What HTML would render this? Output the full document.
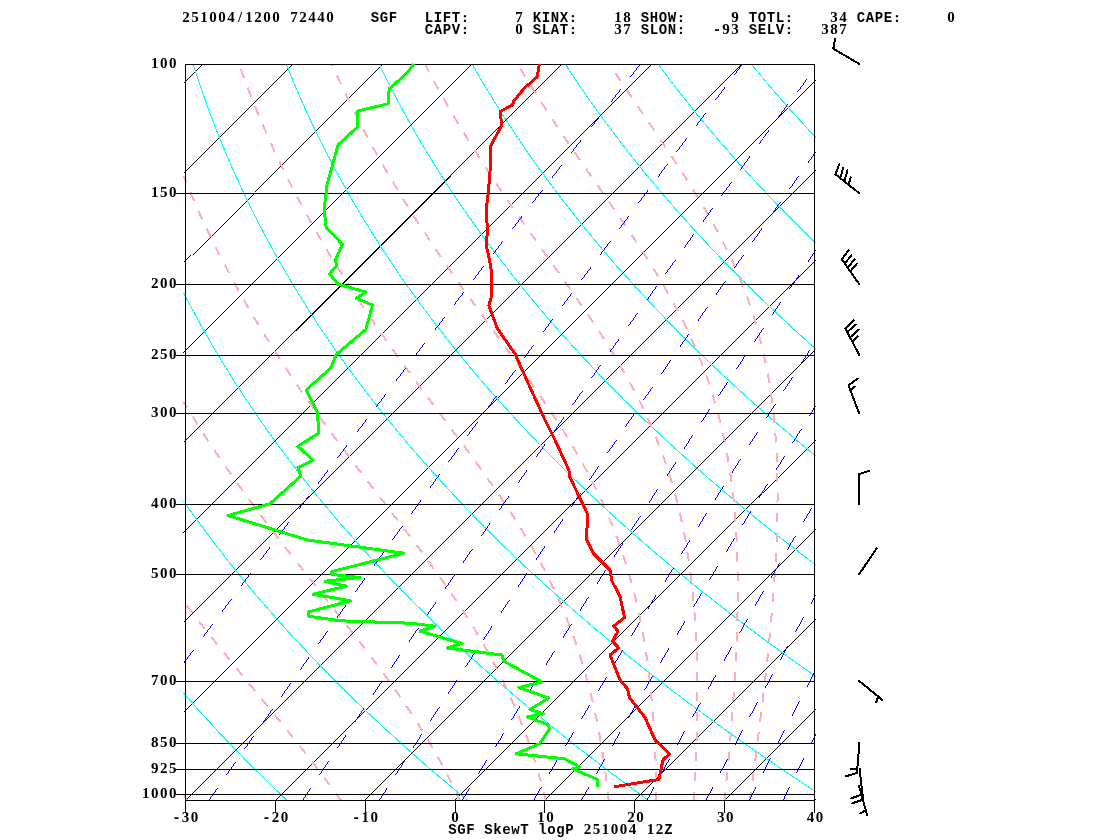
<!DOCTYPE html>
<html><head><meta charset="utf-8"><title>SGF SkewT logP 251004 12Z</title>
<style>html,body{margin:0;padding:0;background:#fff;width:1120px;height:840px;overflow:hidden}
svg text{font-weight:bold;text-anchor:middle}
.m{font-family:"Liberation Mono",monospace;font-size:14px}
.d{font-family:"Liberation Serif",serif;font-size:15px}</style></head>
<body>
<svg width="1120" height="840" viewBox="0 0 1120 840" style="position:absolute;left:0;top:0" shape-rendering="crispEdges">
<rect x="0" y="0" width="1120" height="840" fill="#fff"/>
<g fill="none">
<g stroke="#000" stroke-width="0.99">
<line x1="183.6" y1="83.2" x2="202.8" y2="64.0"/>
<line x1="183.6" y1="173.1" x2="292.7" y2="64.0"/>
<line x1="183.6" y1="262.9" x2="382.5" y2="64.0"/>
<line x1="183.6" y1="352.8" x2="472.4" y2="64.0"/>
<line x1="183.6" y1="442.7" x2="562.3" y2="64.0"/>
<line x1="183.6" y1="532.5" x2="652.1" y2="64.0"/>
<line x1="183.6" y1="622.4" x2="742.0" y2="64.0"/>
<line x1="183.6" y1="712.2" x2="815.8" y2="80.0"/>
<line x1="184.7" y1="801.0" x2="815.8" y2="169.9"/>
<line x1="274.6" y1="801.0" x2="815.8" y2="259.8"/>
<line x1="364.4" y1="801.0" x2="815.8" y2="349.6"/>
<line x1="454.3" y1="801.0" x2="815.8" y2="439.5"/>
<line x1="544.1" y1="801.0" x2="815.8" y2="529.3"/>
<line x1="634.0" y1="801.0" x2="815.8" y2="619.2"/>
<line x1="723.9" y1="801.0" x2="815.8" y2="709.1"/>
<line x1="813.7" y1="801.0" x2="815.8" y2="798.9"/>
</g>
<line x1="295.8" y1="330.5" x2="450.8" y2="175.5" stroke="#000" stroke-width="1.45"/>
<g stroke="#0ff" stroke-width="1.1">

<polyline points="287.7,801.0 274.2,788.1 260.5,774.7 247.0,761.3 233.9,747.9 221.1,734.5 208.6,721.1 196.5,707.7 183.6,693.1"/>
<polyline points="468.5,801.0 446.1,782.4 425.9,765.2 406.2,747.9 385.1,728.8 366.6,711.5 346.8,692.4 327.6,673.2 309.1,654.0 293.0,636.8 275.7,617.6 259.0,598.5 243.0,579.3 227.5,560.2 212.7,541.0 198.4,521.9 191.4,512.3 183.6,501.2"/>
<polyline points="649.3,801.0 629.0,786.2 608.4,770.9 590.9,757.5 571.2,742.2 552.1,726.8 533.4,711.5 515.2,696.2 497.4,680.9 480.1,665.5 463.3,650.2 446.9,634.9 430.9,619.6 415.4,604.2 400.2,588.9 385.5,573.6 369.5,556.3 355.6,541.0 342.2,525.7 329.2,510.4 315.0,493.1 302.7,477.8 289.5,460.5 278.0,445.2 265.6,428.0 255.0,412.6 243.4,395.4 232.3,378.2 221.6,360.9 211.4,343.7 201.6,326.4 192.2,309.2 183.6,292.8"/>
<polyline points="815.8,791.8 798.7,780.5 784.4,770.9 756.4,751.7 742.7,742.2 726.5,730.7 713.2,721.1 697.6,709.6 684.7,700.0 669.6,688.5 657.2,678.9 642.5,667.5 630.5,657.9 616.4,646.4 602.5,634.9 588.9,623.4 577.7,613.8 564.6,602.3 553.8,592.7 541.1,581.2 530.7,571.7 518.5,560.2 506.5,548.7 494.7,537.2 485.1,527.6 473.8,516.1 462.8,504.6 451.9,493.1 441.3,481.6 430.9,470.1 420.8,458.6 410.8,447.1 401.1,435.6 391.6,424.1 382.3,412.6 373.3,401.2 364.4,389.7 355.8,378.2 347.3,366.7 339.1,355.2 331.1,343.7 323.3,332.2 315.6,320.7 308.2,309.2 301.0,297.7 293.9,286.2 287.1,274.7 279.3,261.3 272.9,249.8 266.6,238.3 260.5,226.8 253.7,213.4 248.0,201.9 241.6,188.5 236.3,177.0 230.3,163.6 225.4,152.1 219.9,138.7 215.3,127.2 210.2,113.8 206.0,102.3 201.3,88.9 197.4,77.4 193.1,64.0"/>
<polyline points="815.8,676.6 789.4,657.9 765.8,640.6 742.9,623.4 720.6,606.1 698.8,588.9 675.4,569.7 654.9,552.5 632.9,533.3 613.6,516.1 592.9,496.9 572.9,477.8 553.5,458.6 536.6,441.4 518.5,422.2 501.0,403.1 484.2,383.9 467.9,364.8 452.3,345.6 437.3,326.4 422.8,307.3 408.9,288.1 395.6,269.0 382.9,249.8 376.7,240.2 369.5,228.7 357.8,209.6 352.2,200.0 345.7,188.5 335.1,169.3 330.1,159.8 324.1,148.3 319.4,138.7 313.8,127.2 309.2,117.6 304.0,106.1 299.7,96.5 294.8,85.0 290.8,75.5 286.1,64.0"/>
<polyline points="815.8,565.0 796.9,550.6 777.3,535.3 760.5,521.9 741.8,506.5 725.8,493.1 708.0,477.8 690.6,462.5 673.6,447.1 657.1,431.8 641.0,416.5 625.4,401.2 610.2,385.8 595.4,370.5 581.0,355.2 567.0,339.8 553.4,324.5 540.2,309.2 527.5,293.9 515.1,278.5 501.6,261.3 490.0,246.0 477.4,228.7 466.5,213.4 454.8,196.2 444.7,180.8 433.8,163.6 424.5,148.3 414.4,131.0 405.8,115.7 396.5,98.5 387.6,81.2 379.1,64.0"/>
<polyline points="815.8,456.0 800.4,443.3 786.7,431.8 773.2,420.3 760.1,408.8 747.2,397.3 734.5,385.8 722.1,374.3 709.9,362.8 698.0,351.3 686.3,339.8 674.8,328.4 661.8,314.9 650.8,303.4 638.4,290.0 627.9,278.5 616.0,265.1 606.1,253.6 594.7,240.2 585.3,228.7 574.5,215.3 565.5,203.8 555.2,190.4 546.7,178.9 536.9,165.5 528.8,154.0 519.6,140.6 512.0,129.1 503.2,115.7 496.0,104.2 487.8,90.8 479.8,77.4 472.1,64.0"/>
<polyline points="815.8,349.0 797.1,332.2 778.4,314.9 760.3,297.7 742.7,280.5 725.7,263.2 709.2,246.0 693.2,228.7 676.0,209.6 661.1,192.3 645.1,173.2 631.2,155.9 616.4,136.8 603.5,119.5 589.7,100.4 577.8,83.1 565.2,64.0"/>
<polyline points="815.8,243.1 805.0,232.6 793.4,221.1 782.1,209.6 771.0,198.1 761.9,188.5 751.2,177.0 740.8,165.5 730.6,154.0 722.2,144.4 712.4,132.9 702.9,121.4 693.5,110.0 684.3,98.5 675.4,87.0 666.7,75.5 658.2,64.0"/>
<polyline points="815.8,137.6 799.1,119.5 782.0,100.4 767.1,83.1 751.2,64.0"/>

</g>
<g stroke="#ffaeb9" stroke-width="2" stroke-dasharray="9.4 10.6">
<polyline points="188.0,801.0 183.6,795.9"/>
<polyline points="341.5,801.0 332.2,788.1 322.1,774.7 311.9,761.3 301.3,747.9 279.8,721.1 237.4,669.4 218.8,646.4 200.5,623.4 183.6,601.5"/>
<polyline points="460.2,801.0 454.1,788.1 447.4,774.7 440.2,761.3 432.6,747.9 424.6,734.5 416.3,721.1 407.5,707.7 398.3,694.3 390.2,682.8 381.9,671.3 373.4,659.8 363.2,646.4 343.8,621.5 302.9,569.7 284.8,546.8 267.2,523.8 250.0,500.8 240.3,487.4 232.1,475.9 222.8,462.5 214.9,451.0 206.0,437.6 198.6,426.1 191.3,414.6 183.6,402.0"/>
<polyline points="546.0,801.0 543.2,790.1 540.6,780.5 537.3,769.0 534.3,759.4 530.5,747.9 527.2,738.3 523.6,728.8 519.9,719.2 515.9,709.6 511.8,700.0 507.4,690.4 502.9,680.9 498.1,671.3 493.1,661.7 487.9,652.1 482.4,642.5 473.3,627.2 468.5,619.6 462.4,610.0 450.9,592.7 438.8,575.5 426.3,558.3 413.5,541.0 398.9,521.9 354.8,464.4 341.8,447.1 329.0,429.9 315.1,410.7 301.7,391.6 288.7,372.4 276.2,353.3 268.9,341.8 261.8,330.3 254.8,318.8 249.2,309.2 243.7,299.6 237.2,288.1 231.0,276.6 224.9,265.1 219.9,255.6 214.2,244.1 208.6,232.6 203.2,221.1 197.9,209.6 192.9,198.1 188.0,186.6 183.6,176.0"/>
<polyline points="608.8,801.0 606.9,784.3 605.0,769.0 602.7,753.7 600.1,738.3 597.3,723.0 594.4,709.6 590.9,694.3 587.4,680.9 583.6,667.5 579.5,654.0 575.0,640.6 570.1,627.2 564.7,613.8 559.9,602.3 553.7,588.9 548.2,577.4 543.3,567.8 538.1,558.3 532.8,548.7 527.2,539.1 521.5,529.5 514.3,518.0 508.1,508.4 500.4,496.9 487.1,477.8 473.4,458.6 457.8,437.6 424.9,393.5 410.7,374.3 396.7,355.2 383.1,336.0 368.5,314.9 354.4,293.9 340.9,272.8 329.1,253.6 322.3,242.1 315.7,230.6 309.2,219.2 302.9,207.7 296.8,196.2 290.8,184.7 285.1,173.2 278.6,159.8 273.2,148.3 268.0,136.8 263.0,125.3 257.3,111.9 252.6,100.4 248.1,88.9 243.8,77.4 238.9,64.0"/>
<polyline points="656.5,801.0 656.1,778.6 655.4,755.6 654.3,734.5 652.9,713.4 651.2,694.3 649.1,675.1 647.9,665.5 646.6,656.0 643.8,638.7 640.6,621.5 638.6,611.9 636.9,604.2 634.6,594.7 632.6,587.0 628.3,571.7 626.0,564.0 623.5,556.3 620.9,548.7 618.2,541.0 615.4,533.3 612.4,525.7 609.2,518.0 605.9,510.4 600.7,498.9 596.1,489.3 590.3,477.8 584.2,466.3 577.7,454.8 570.9,443.3 563.9,431.8 555.3,418.4 548.9,408.8 542.5,399.2 534.5,387.7 526.4,376.2 511.3,355.2 470.9,299.6 458.5,282.4 446.5,265.1 434.7,247.9 423.2,230.6 412.0,213.4 402.5,198.1 392.1,180.8 382.0,163.6 372.4,146.4 364.2,131.0 356.3,115.7 347.8,98.5 339.6,81.2 331.9,64.0"/>
<polyline points="694.0,801.0 695.6,769.0 696.6,740.3 697.2,713.4 697.3,688.5 697.2,675.1 697.0,663.6 696.6,652.1 696.2,640.6 695.0,619.6 694.1,608.1 693.3,598.5 692.2,587.0 691.1,577.4 689.8,567.8 688.4,558.3 686.9,548.7 685.3,539.1 683.4,529.5 681.8,521.9 679.7,512.3 677.8,504.6 675.4,495.0 673.2,487.4 670.4,477.8 668.0,470.1 664.7,460.5 662.0,452.9 656.8,439.5 652.1,428.0 646.9,416.5 641.5,405.0 635.7,393.5 628.5,380.1 622.0,368.6 614.0,355.2 608.1,345.6 600.8,334.1 593.2,322.6 584.2,309.2 568.2,286.2 531.5,234.5 515.4,211.5 499.6,188.5 484.4,165.5 475.8,152.1 467.4,138.7 459.2,125.3 452.4,113.8 444.7,100.4 438.2,88.9 431.9,77.4 424.9,64.0"/>
<polyline points="724.5,801.0 728.2,763.2 731.2,728.8 733.6,696.2 735.4,667.5 736.7,640.6 737.2,627.2 737.5,613.8 737.7,600.4 737.8,588.9 737.7,577.4 737.6,565.9 737.2,554.4 736.8,542.9 736.2,531.4 735.5,521.9 734.6,510.4 733.7,500.8 732.6,491.2 731.4,481.6 730.1,472.0 728.6,462.5 726.9,452.9 725.1,443.3 723.0,433.7 720.8,424.1 718.4,414.6 716.3,406.9 714.1,399.2 711.7,391.6 709.2,383.9 706.6,376.2 703.7,368.6 700.8,360.9 695.2,347.5 689.2,334.1 685.6,326.4 681.8,318.8 677.8,311.1 673.7,303.4 665.1,288.1 658.3,276.6 650.0,263.2 641.4,249.8 632.6,236.4 615.6,211.5 573.2,150.2 561.5,132.9 551.3,117.6 542.6,104.2 534.0,90.8 525.7,77.4 517.6,64.0"/>
<polyline points="749.9,801.0 756.1,753.7 760.9,715.3 765.0,680.9 768.5,648.3 771.4,617.6 773.6,590.8 775.4,564.0 776.7,539.1 777.1,525.7 777.4,514.2 777.5,502.7 777.6,491.2 777.4,479.7 777.2,468.2 776.7,456.7 776.3,447.1 775.5,435.6 774.7,426.1 773.8,416.5 772.7,406.9 771.5,397.3 770.1,387.7 768.5,378.2 767.1,370.5 765.2,360.9 763.6,353.3 761.3,343.7 759.3,336.0 756.7,326.4 754.4,318.8 752.0,311.1 749.4,303.4 746.6,295.8 743.7,288.1 740.7,280.5 737.5,272.8 734.1,265.1 730.6,257.5 726.9,249.8 722.1,240.2 715.0,226.8 706.3,211.5 697.1,196.2 686.3,178.9 677.6,165.5 667.5,150.2 627.2,90.8 609.4,64.0"/>
</g>
<g stroke="#00f" stroke-width="0.99" stroke-dasharray="16.5 15.56">
<polyline points="183.6,663.2 237.5,590.8 292.1,518.0 348.5,443.3 405.3,368.6 462.5,293.9 521.4,217.2 580.8,140.6 640.5,64.0"/>
<polyline stroke-dashoffset="0.8" points="208.4,801.0 238.7,757.5 269.5,713.4 300.5,669.4 333.0,623.4 364.4,579.3 397.2,533.3 430.3,487.4 463.5,441.4 496.9,395.4 530.5,349.4 564.3,303.4 599.6,255.6 635.1,207.7 670.7,159.8 706.6,111.9 742.5,64.0"/>
<polyline stroke-dashoffset="0.8" points="302.1,801.0 331.0,757.5 360.5,713.4 390.2,669.4 421.5,623.4 451.6,579.3 483.2,533.3 513.7,489.3 545.8,443.3 578.0,397.3 610.4,351.3 643.1,305.4 677.2,257.5 711.6,209.6 746.2,161.7 780.9,113.8 815.8,66.0"/>
<polyline stroke-dashoffset="0.8" points="379.0,801.0 404.4,761.3 429.0,723.0 453.9,684.7 480.2,644.5 506.6,604.2 533.2,564.0 560.1,523.8 587.0,483.5 614.2,443.3 642.8,401.2 670.3,360.9 699.3,318.8 727.1,278.5 756.4,236.4 785.9,194.2 815.8,151.8"/>
<polyline stroke-dashoffset="0.8" points="461.8,801.0 482.5,767.1 502.5,734.5 522.7,701.9 544.2,667.5 586.4,600.4 608.3,565.9 630.4,531.4 675.0,462.5 697.5,428.0 721.4,391.6 768.4,320.7 815.8,250.0"/>
<polyline stroke-dashoffset="0.8" points="533.2,801.0 566.6,744.1 599.6,688.5 633.1,633.0 668.1,575.5 703.7,518.0 740.8,458.6 778.4,399.2 815.8,340.9"/>
<polyline stroke-dashoffset="0.8" points="581.0,801.0 608.9,751.7 636.5,703.9 664.4,656.0 693.9,606.1 723.6,556.3 753.7,506.5 784.2,456.7 815.8,405.6"/>
<polyline stroke-dashoffset="0.8" points="646.6,801.0 667.1,763.2 687.1,726.8 707.3,690.4 728.8,652.1 749.4,615.7 771.3,577.4 793.5,539.1 815.8,501.0"/>
<polyline stroke-dashoffset="0.8" points="705.6,801.0 732.3,749.8 759.7,698.1 787.6,646.4 815.8,594.9"/>
<polyline stroke-dashoffset="0.8" points="748.8,801.0 764.8,769.0 781.4,736.4 798.1,703.9 815.8,669.9"/>
<polyline stroke-dashoffset="0.8" points="782.8,801.0 799.4,767.1 815.8,734.0"/>
</g>
</g>
<g stroke="#000" stroke-width="1" fill="none">
<line x1="185.5" y1="64.5" x2="814.5" y2="64.5"/>
<line x1="176.0" y1="193.5" x2="814.5" y2="193.5"/>
<line x1="176.0" y1="284.5" x2="814.5" y2="284.5"/>
<line x1="176.0" y1="355.5" x2="814.5" y2="355.5"/>
<line x1="176.0" y1="413.5" x2="814.5" y2="413.5"/>
<line x1="176.0" y1="504.5" x2="814.5" y2="504.5"/>
<line x1="176.0" y1="574.5" x2="814.5" y2="574.5"/>
<line x1="176.0" y1="681.5" x2="814.5" y2="681.5"/>
<line x1="176.0" y1="743.5" x2="814.5" y2="743.5"/>
<line x1="176.0" y1="769.5" x2="814.5" y2="769.5"/>
<line x1="176.0" y1="794.5" x2="814.5" y2="794.5"/>
<rect x="185.5" y="64.5" width="629" height="736"/>
<line x1="185.5" y1="800.5" x2="185.5" y2="812.5"/>
<line x1="275.5" y1="800.5" x2="275.5" y2="812.5"/>
<line x1="365.5" y1="800.5" x2="365.5" y2="812.5"/>
<line x1="455.5" y1="800.5" x2="455.5" y2="812.5"/>
<line x1="544.5" y1="800.5" x2="544.5" y2="812.5"/>
<line x1="634.5" y1="800.5" x2="634.5" y2="812.5"/>
<line x1="724.5" y1="800.5" x2="724.5" y2="812.5"/>
<line x1="814.5" y1="800.5" x2="814.5" y2="812.5"/>
</g>
<polyline points="413.8,63.8 407.5,72.5 393.8,85.0 389.2,88.8 388.0,103.8 357.0,111.2 357.5,127.0 338.0,145.0 332.5,165.0 327.0,185.0 325.0,202.5 324.5,212.5 326.2,227.5 342.5,244.5 335.8,258.8 336.2,266.2 329.5,273.8 338.0,284.2 365.8,292.0 356.2,298.2 372.5,305.0 365.8,329.5 336.2,354.5 330.8,368.0 306.2,390.0 317.5,412.5 318.8,433.0 298.0,446.2 313.0,460.5 298.0,467.5 300.8,476.2 270.0,503.8 228.0,515.5 275.0,530.0 307.5,540.0 403.8,553.2 331.2,571.8 332.0,574.5 360.0,577.5 325.0,581.2 346.2,586.2 313.0,594.2 350.8,600.8 308.2,612.0 308.8,616.2 340.0,620.8 410.0,623.2 435.0,626.2 420.0,631.2 462.0,643.5 447.0,648.0 502.0,655.0 503.8,661.2 542.0,682.0 518.8,687.5 548.8,698.0 530.0,709.5 543.8,713.8 527.5,717.0 548.8,725.0 549.2,729.5 539.5,743.8 516.2,753.8 564.5,758.8 580.0,767.0 572.5,768.8 597.0,779.2 597.5,787.0" fill="none" stroke="#0f0" stroke-width="3" stroke-linejoin="round"/>
<polyline points="539.5,63.8 537.0,77.0 523.8,88.8 513.8,101.2 512.5,105.0 500.8,111.2 501.2,126.2 490.5,146.2 490.0,172.5 488.0,195.0 486.2,210.0 487.5,230.0 486.2,245.0 489.5,260.0 492.0,275.0 491.2,297.5 488.8,305.5 497.5,328.8 515.0,353.8 531.2,390.0 545.0,420.0 555.0,440.0 568.8,470.0 570.0,477.5 588.0,515.0 586.2,538.8 593.8,553.8 610.0,570.0 612.0,581.2 620.0,596.2 624.5,617.5 613.8,626.2 618.0,631.2 612.5,641.2 618.8,648.0 610.0,655.0 620.0,680.0 627.5,688.8 629.5,697.5 645.0,717.5 655.0,740.0 669.5,753.8 663.0,760.0 658.8,779.5 613.8,786.8" fill="none" stroke="#f00" stroke-width="3" stroke-linejoin="round"/>
<g stroke="#000" stroke-width="2" stroke-linecap="round" fill="none">
<line x1="859.5" y1="64.0" x2="833.3" y2="48.8"/>
<line x1="833.3" y1="48.8" x2="835.0" y2="38.8"/>
<line x1="859.3" y1="193.2" x2="835.4" y2="174.3"/>
<line x1="835.4" y1="174.3" x2="839.3" y2="164.3"/>
<line x1="840.7" y1="176.8" x2="843.2" y2="167.5"/>
<line x1="844.6" y1="180.4" x2="847.5" y2="170.4"/>
<line x1="848.9" y1="183.6" x2="850.6" y2="177.5"/>
<line x1="859.3" y1="284.3" x2="841.8" y2="259.3"/>
<line x1="841.8" y1="259.3" x2="848.6" y2="250.4"/>
<line x1="845.0" y1="263.2" x2="851.4" y2="255.4"/>
<line x1="847.9" y1="267.5" x2="854.6" y2="259.3"/>
<line x1="850.4" y1="271.4" x2="856.8" y2="263.6"/>
<line x1="859.3" y1="355.0" x2="845.4" y2="328.6"/>
<line x1="845.4" y1="328.6" x2="853.6" y2="320.4"/>
<line x1="847.9" y1="331.4" x2="855.7" y2="324.6"/>
<line x1="850.7" y1="336.8" x2="858.9" y2="329.6"/>
<line x1="852.9" y1="341.4" x2="857.9" y2="336.4"/>
<line x1="859.1" y1="413.2" x2="848.6" y2="385.4"/>
<line x1="848.6" y1="385.4" x2="857.7" y2="378.6"/>
<line x1="850.4" y1="390.0" x2="854.9" y2="386.6"/>
<line x1="858.9" y1="504.3" x2="858.9" y2="474.3"/>
<line x1="858.9" y1="474.3" x2="868.8" y2="471.0"/>
<line x1="858.9" y1="574.5" x2="876.7" y2="548.4"/>
<line x1="858.9" y1="680.7" x2="882.4" y2="700.0"/>
<line x1="878.1" y1="696.7" x2="876.2" y2="702.4"/>
<line x1="859.4" y1="742.5" x2="857.0" y2="773.0"/>
<line x1="857.0" y1="773.0" x2="845.7" y2="776.3"/>
<line x1="857.3" y1="769.1" x2="851.3" y2="769.1"/>
<line x1="859.6" y1="768.8" x2="863.1" y2="799.6"/>
<line x1="863.1" y1="799.6" x2="852.3" y2="803.3"/>
<line x1="861.6" y1="794.7" x2="851.3" y2="798.3"/>
<line x1="859.1" y1="786.2" x2="867.2" y2="815.4"/>
<line x1="866.1" y1="810.0" x2="860.2" y2="813.5"/>
</g>
<g fill="#000"><text y="22.0" class="d" x="186.0 195.0 204.0 213.0 222.0 231.0 240.0 249.0 258.0 267.0 276.0">251004/1200</text>
<text y="22.0" class="d" x="294.0 303.0 312.0 321.0 330.0">72440</text>
<text y="22.0" class="m" x="375.0 384.0 393.0">SGF</text>
<text y="22.0"><tspan class="m" x="429.0 438.0 447.0 456.0">LIFT</tspan><tspan class="d" x="465.0">:</tspan></text>
<text y="22.0" class="d" x="519.0">7</text>
<text y="22.0"><tspan class="m" x="537.0 546.0 555.0 564.0">KINX</tspan><tspan class="d" x="573.0">:</tspan></text>
<text y="22.0" class="d" x="618.0 627.0">18</text>
<text y="22.0"><tspan class="m" x="645.0 654.0 663.0 672.0">SHOW</tspan><tspan class="d" x="681.0">:</tspan></text>
<text y="22.0" class="d" x="735.0">9</text>
<text y="22.0"><tspan class="m" x="753.0 762.0 771.0 780.0">TOTL</tspan><tspan class="d" x="789.0">:</tspan></text>
<text y="22.0" class="d" x="834.0 843.0">34</text>
<text y="22.0"><tspan class="m" x="861.0 870.0 879.0 888.0">CAPE</tspan><tspan class="d" x="897.0">:</tspan></text>
<text y="22.0" class="d" x="951.0">0</text>
<text y="34.0"><tspan class="m" x="429.0 438.0 447.0 456.0">CAPV</tspan><tspan class="d" x="465.0">:</tspan></text>
<text y="34.0" class="d" x="519.0">0</text>
<text y="34.0"><tspan class="m" x="537.0 546.0 555.0 564.0">SLAT</tspan><tspan class="d" x="573.0">:</tspan></text>
<text y="34.0" class="d" x="618.0 627.0">37</text>
<text y="34.0"><tspan class="m" x="645.0 654.0 663.0 672.0">SLON</tspan><tspan class="d" x="681.0">:</tspan></text>
<text y="34.0"><tspan class="m" x="717.0">-</tspan><tspan class="d" x="726.0 735.0">93</tspan></text>
<text y="34.0"><tspan class="m" x="753.0 762.0 771.0 780.0">SELV</tspan><tspan class="d" x="789.0">:</tspan></text>
<text y="34.0" class="d" x="825.0 834.0 843.0">387</text>
<text y="68.2" class="d" x="154.8 163.8 172.8">100</text>
<text y="197.2" class="d" x="154.8 163.8 172.8">150</text>
<text y="288.2" class="d" x="154.8 163.8 172.8">200</text>
<text y="359.2" class="d" x="154.8 163.8 172.8">250</text>
<text y="417.2" class="d" x="154.8 163.8 172.8">300</text>
<text y="508.2" class="d" x="154.8 163.8 172.8">400</text>
<text y="578.2" class="d" x="154.8 163.8 172.8">500</text>
<text y="685.2" class="d" x="154.8 163.8 172.8">700</text>
<text y="747.2" class="d" x="154.8 163.8 172.8">850</text>
<text y="773.2" class="d" x="154.8 163.8 172.8">925</text>
<text y="798.2" class="d" x="145.8 154.8 163.8 172.8">1000</text>
<text y="822.0"><tspan class="m" x="176.5">-</tspan><tspan class="d" x="185.5 194.5">30</tspan></text>
<text y="822.0"><tspan class="m" x="266.4">-</tspan><tspan class="d" x="275.4 284.4">20</tspan></text>
<text y="822.0"><tspan class="m" x="356.2">-</tspan><tspan class="d" x="365.2 374.2">10</tspan></text>
<text y="822.0" class="d" x="455.1">0</text>
<text y="822.0" class="d" x="541.0 550.0">10</text>
<text y="822.0" class="d" x="630.9 639.9">20</text>
<text y="822.0" class="d" x="720.8 729.8">30</text>
<text y="822.0" class="d" x="810.6 819.6">40</text>
<text y="834.0" class="m" x="452.5 461.5 470.5">SGF</text>
<text y="834.0" class="m" x="488.5 497.5 506.5 515.5 524.5">SkewT</text>
<text y="834.0" class="m" x="542.5 551.5 560.5 569.5">logP</text>
<text y="834.0" class="d" x="587.5 596.5 605.5 614.5 623.5 632.5">251004</text>
<text y="834.0"><tspan class="d" x="650.5 659.5">12</tspan><tspan class="m" x="668.5">Z</tspan></text></g></svg>
</body></html>
